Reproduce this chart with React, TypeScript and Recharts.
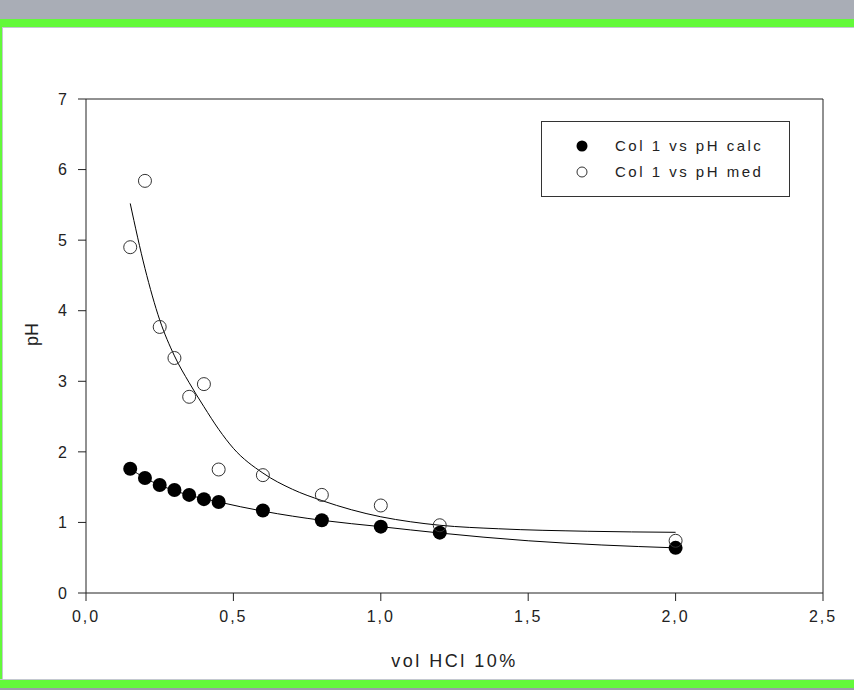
import { ComposedChart, Scatter, Line, XAxis, YAxis, ReferenceLine, Legend } from 'recharts';

const xTicks = [0, 0.5, 1, 1.5, 2, 2.5];
const yTicks = [0, 1, 2, 3, 4, 5, 6, 7];

// measured points
const vol = [0.15, 0.2, 0.25, 0.3, 0.35, 0.4, 0.45, 0.6, 0.8, 1.0, 1.2, 2.0];
const phCalc = [1.76, 1.63, 1.53, 1.46, 1.39, 1.33, 1.29, 1.17, 1.03, 0.94, 0.855, 0.64];
const phMed = [4.9, 5.84, 3.77, 3.33, 2.78, 2.96, 1.75, 1.67, 1.39, 1.24, 0.96, 0.74];

// fitted curves
const calcFitX = [0.15, 0.2, 0.3, 0.45, 0.6, 0.8, 1.0, 1.2, 1.5, 1.75, 2.0];
const calcFitY = [1.76, 1.63, 1.45, 1.29, 1.16, 1.03, 0.94, 0.85, 0.74, 0.68, 0.64];
const medFitX = [0.15, 0.2, 0.25, 0.3, 0.35, 0.4, 0.45, 0.5, 0.6, 0.7, 0.8, 0.9, 1.0, 1.1, 1.2, 1.4, 1.7, 2.0];
const medFitY = [5.52, 4.6, 3.87, 3.36, 2.98, 2.64, 2.32, 2.05, 1.7, 1.47, 1.31, 1.18, 1.08, 1.01, 0.96, 0.91, 0.875, 0.86];

const calcData = vol.map((x, i) => ({ x, y: phCalc[i] }));
const medData = vol.map((x, i) => ({ x, y: phMed[i] }));
const calcFit = calcFitX.map((x, i) => ({ x, y: calcFitY[i] }));
const medFit = medFitX.map((x, i) => ({ x, y: medFitY[i] }));

const FONT = "'Liberation Sans Narrow', 'Liberation Sans', Arial, sans-serif";
const INK = '#222';

const fmt = (v: number) => v.toFixed(1).replace('.', ',');

const FilledDot = (p: any) => <circle cx={p.cx} cy={p.cy} r={7} fill="#000" />;
const OpenDot = (p: any) => <circle cx={p.cx} cy={p.cy} r={6.5} fill="none" stroke="#333" strokeWidth={1} />;

function LegendBox() {
  const row = (filled: boolean, text: string, top: number) => (
    <div style={{ position: 'absolute', left: 0, top, height: 20, width: '100%' }}>
      <svg width={20} height={20} style={{ position: 'absolute', left: 30, top: 0 }}>
        {filled ? (
          <circle cx={10} cy={10} r={5.5} fill="#000" />
        ) : (
          <circle cx={10} cy={10} r={5} fill="#fff" stroke="#333" strokeWidth={1} />
        )}
      </svg>
      <span
        style={{
          position: 'absolute',
          left: 73,
          top: 0,
          lineHeight: '20px',
          fontSize: 15,
          letterSpacing: 2.5,
          color: INK,
          fontFamily: FONT,
          whiteSpace: 'nowrap',
        }}
      >
        {text}
      </span>
    </div>
  );
  return (
    <div style={{ position: 'relative', width: 247, height: 74, border: '1px solid #333', background: '#fff' }}>
      {row(true, 'Col 1 vs pH calc', 14)}
      {row(false, 'Col 1 vs pH med', 40)}
    </div>
  );
}

export default function App() {
  return (
    <div style={{ position: 'fixed', left: 0, top: 0, width: 854, height: 690, background: '#fff', overflow: 'hidden' }}>
      <div style={{ position: 'absolute', left: 0, top: 0, width: 854, height: 19, background: '#a9adb6' }} />
      <div style={{ position: 'absolute', left: 0, top: 19, width: 854, height: 8, background: '#63f93a' }} />
      <div style={{ position: 'absolute', left: 0, top: 27, width: 854, height: 1, background: '#c4c8d0' }} />
      <div style={{ position: 'absolute', left: 0, top: 27, width: 2, height: 653, background: '#63f93a' }} />
      <div style={{ position: 'absolute', left: 2, top: 28, width: 1, height: 652, background: '#c4c8d0' }} />
      <div style={{ position: 'absolute', left: 0, top: 679, width: 854, height: 1, background: '#c4c8d0' }} />
      <div style={{ position: 'absolute', left: 0, top: 680, width: 854, height: 8, background: '#63f93a' }} />
      <div style={{ position: 'absolute', left: 0, top: 688, width: 854, height: 2, background: '#9a9ea6' }} />
      <div style={{ position: 'absolute', left: 0, top: 0 }}>
        <ComposedChart width={854} height={690} margin={{ top: 99, right: 31, bottom: 22, left: 26 }}>
          <XAxis
            type="number"
            dataKey="x"
            domain={[0, 2.5]}
            ticks={xTicks}
            tickFormatter={fmt}
            height={75}
            tickSize={8}
            tickMargin={10}
            stroke={INK}
            tick={{ fill: INK, fontSize: 16, fontFamily: FONT, letterSpacing: 2 }}
            label={{
              value: 'vol HCl 10%',
              position: 'insideBottom',
              offset: 1,
              fill: INK,
              fontSize: 18,
              fontFamily: FONT,
              letterSpacing: 2.5,
            }}
          />
          <YAxis
            type="number"
            dataKey="y"
            domain={[0, 7]}
            ticks={yTicks}
            width={60}
            tickSize={8}
            tickMargin={11}
            stroke={INK}
            tick={{ fill: INK, fontSize: 16, fontFamily: FONT }}
            label={{
              value: 'pH',
              angle: -90,
              position: 'insideLeft',
              offset: 6,
              fill: INK,
              fontSize: 18,
              fontFamily: FONT,
            }}
          />
          <ReferenceLine y={7} stroke={INK} />
          <ReferenceLine x={2.5} stroke={INK} />
          <Scatter data={calcData} shape={FilledDot} isAnimationActive={false} legendType="none" />
          <Scatter data={medData} shape={OpenDot} isAnimationActive={false} legendType="none" />
          <Line data={calcFit} dataKey="y" type="monotone" stroke="#000" strokeWidth={1} dot={false} isAnimationActive={false} legendType="none" />
          <Line data={medFit} dataKey="y" type="monotone" stroke="#000" strokeWidth={1} dot={false} isAnimationActive={false} legendType="none" />
          <Legend
            layout="vertical"
            align="center"
            verticalAlign="middle"
            content={<LegendBox />}
            wrapperStyle={{ position: 'absolute', left: 541, top: 121, width: 249, height: 76 }}
          />
        </ComposedChart>
      </div>
    </div>
  );
}
